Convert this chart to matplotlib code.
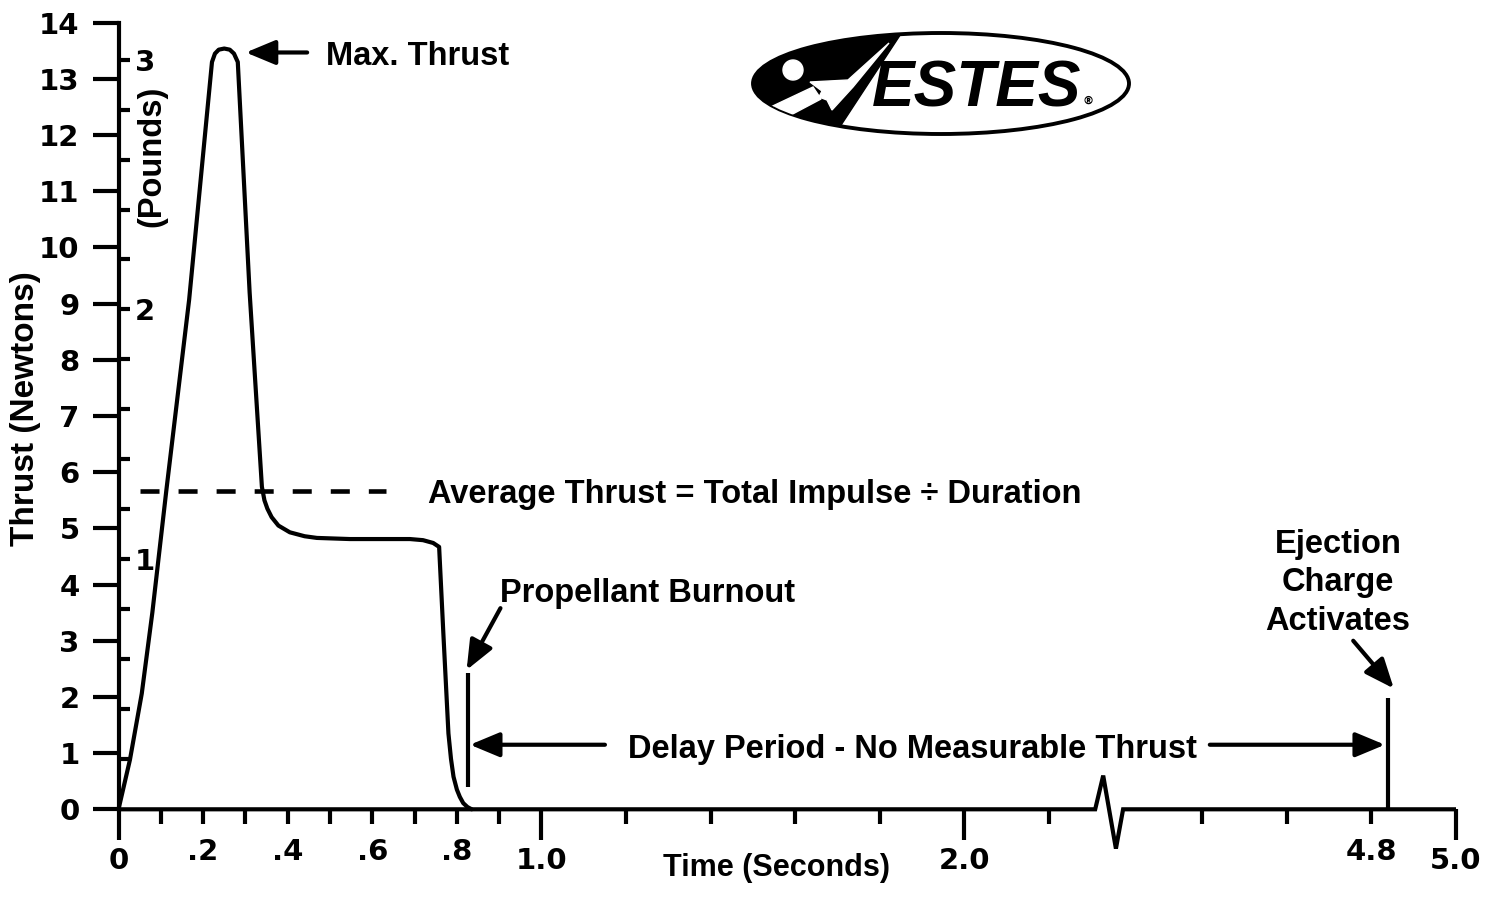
import numpy as np
import matplotlib
matplotlib.use("Agg")
import matplotlib.pyplot as plt
from matplotlib.patches import Ellipse, Polygon, Circle

# thrust curve (seconds, newtons)
TIME_S = [0.0, 0.027, 0.055, 0.080, 0.113, 0.167, 0.221, 0.228, 0.237, 0.250,
          0.263, 0.273, 0.282, 0.310, 0.339, 0.345, 0.352, 0.362, 0.378, 0.405,
          0.440, 0.469, 0.547, 0.689, 0.720, 0.744, 0.758, 0.768, 0.780, 0.786,
          0.792, 0.800, 0.807, 0.815, 0.825, 0.835]
THRUST_N = [0.0, 0.88, 2.06, 3.50, 5.67, 9.07, 13.30, 13.45, 13.52, 13.54,
            13.52, 13.45, 13.30, 9.20, 5.74, 5.50, 5.35, 5.20, 5.05, 4.93,
            4.86, 4.83, 4.81, 4.81, 4.79, 4.74, 4.67, 3.13, 1.35, 0.90,
            0.58, 0.35, 0.22, 0.11, 0.04, 0.0]

# time axis ticks
X_MAJOR = [0.0, 1.0, 2.0, 5.0]
X_MAJOR_LABELS = ["0", "1.0", "2.0", "5.0"]
X_MINOR = [0.1, 0.2, 0.3, 0.4, 0.5, 0.6, 0.7, 0.8, 0.9,
           1.2, 1.4, 1.6, 1.8, 2.2, 4.4, 4.6, 4.8]
X_MINOR_LABELS = ["", ".2", "", ".4", "", ".6", "", ".8", "",
                  "", "", "", "", "", "", "", "4.8"]

# thrust axis ticks (newtons on the left, pounds inside)
Y_TICKS = list(range(15))
LB_MAJOR = [1, 2, 3]
LB_MINOR = [0.2, 0.4, 0.6, 0.8, 1.2, 1.4, 1.6, 1.8, 2.2, 2.4, 2.6, 2.8]
N_PER_LB = 4.448

AVG_THRUST = 5.67
AVG_SPAN = [0.051, 0.633]
BURNOUT_T = 0.826
BURNOUT_SPAN = [0.39, 2.42]
EJECTION_T = 4.84
EJECTION_SPAN = [0.0, 1.98]

# axis break: 2.3 s .. 4.4 s squeezed into a short gap
SCALE_T = [0.0, 2.3, 4.4, 6.0]
SCALE_U = [0.0, 2.3, 2.562, 4.162]
BREAK_T = [2.372, 2.524, 2.765, 2.901]
BREAK_N = [0.0, 0.6, -0.7, 0.0]

LW = 3.0
ANNOT_SIZE = 23.5
TICK_FONT = dict(fontfamily="DejaVu Sans", fontweight="bold", fontsize=21)

plt.rcParams['font.family'] = ['Liberation Sans', 'DejaVu Sans']
plt.rcParams['font.weight'] = 'bold'
plt.rcParams['lines.scale_dashes'] = False


def fwd(t):
    return np.interp(t, SCALE_T, SCALE_U)


def inv(u):
    return np.interp(u, SCALE_U, SCALE_T)


def n_to_lb(n):
    return np.asarray(n) / N_PER_LB


def lb_to_n(lb):
    return np.asarray(lb) * N_PER_LB


def arrow(ax, tail, tip):
    ax.annotate("", xy=tip, xytext=tail,
                arrowprops=dict(arrowstyle="-|>,head_length=1.8,head_width=0.75",
                                mutation_scale=10, lw=LW, color="black",
                                shrinkA=0, shrinkB=0),
                annotation_clip=False)


def draw_logo(fig):
    W, H = 1497, 915
    lax = fig.add_axes([745 / W, 1 - 140 / H, 395 / W, 115 / H])
    lax.set_xlim(745, 1140)
    lax.set_ylim(140, 25)
    lax.axis("off")

    oval = Ellipse((941, 83.5), 376, 101, facecolor="white",
                   edgecolor="black", lw=2.8, zorder=1)
    lax.add_patch(oval)
    dark = Polygon([(740, 20), (910, 20), (828, 145), (740, 145)],
                   closed=True, color="black", zorder=2)
    lax.add_patch(dark)
    dark.set_clip_path(oval)

    trail = Polygon([(760, 112), (813, 87), (821, 99), (770, 126)],
                    closed=True, color="white", zorder=3)
    lax.add_patch(trail)
    trail.set_clip_path(oval)
    rocket = Polygon([(889, 43), (848, 80), (810, 82), (822, 91), (819, 97),
                      (827, 100), (832, 110), (853, 87)],
                     closed=True, color="white", zorder=3)
    lax.add_patch(rocket)
    lax.add_patch(Circle((793, 70), 10, color="white", zorder=3))

    lax.text(977, 106.5, "ESTES", fontsize=46, fontstyle="italic",
             fontweight="bold", ha="center", va="baseline", zorder=4)
    lax.text(1088, 101, "\u00ae", fontsize=8, fontfamily="DejaVu Sans",
             ha="center", va="center", zorder=4)


fig = plt.figure(figsize=(14.97, 9.15), dpi=100)
ax = fig.add_axes([118.5 / 1497, 105.7 / 915, 1337.5 / 1497, 786.6 / 915])
ax.set_xscale("function", functions=(fwd, inv))
ax.set_xlim(0, 5.0)
ax.set_ylim(0, 14)

for side in ("top", "right", "bottom"):
    ax.spines[side].set_visible(False)
ax.spines["left"].set_linewidth(LW)

# time axis line with the break zigzag
ax.plot([0.0] + BREAK_T + [5.0], [0.0] + BREAK_N + [0.0], color="black",
        lw=LW, solid_joinstyle="miter", solid_capstyle="butt",
        clip_on=False, zorder=3)

# thrust curve
ax.plot(TIME_S, THRUST_N, color="black", lw=LW, solid_joinstyle="round",
        solid_capstyle="round", clip_on=False, zorder=4)

# average thrust
ax.plot(AVG_SPAN, [AVG_THRUST, AVG_THRUST], color="black", lw=3.3,
        dashes=(13.7, 13.7), dash_capstyle="butt")

# burnout and ejection markers
ax.plot([BURNOUT_T, BURNOUT_T], BURNOUT_SPAN, color="black", lw=LW,
        solid_capstyle="butt")
ax.plot([EJECTION_T, EJECTION_T], EJECTION_SPAN, color="black", lw=LW,
        solid_capstyle="butt")

# ticks
ax.set_xticks(X_MAJOR, labels=X_MAJOR_LABELS, **TICK_FONT)
ax.set_xticks(X_MINOR, labels=X_MINOR_LABELS, minor=True, **TICK_FONT)
ax.tick_params(axis="x", which="major", direction="out", length=22,
               width=LW, pad=5)
ax.tick_params(axis="x", which="minor", direction="out", length=11,
               width=LW, pad=9.5)
ax.set_yticks(Y_TICKS, labels=[str(v) for v in Y_TICKS], **TICK_FONT)
ax.tick_params(axis="y", which="major", direction="out", length=19,
               width=LW, pad=9)
ax.yaxis.set_minor_locator(plt.NullLocator())

sec = ax.secondary_yaxis(0, functions=(n_to_lb, lb_to_n))
sec.set_alignment("right")
sec.set_yticks(LB_MAJOR, labels=[str(v) for v in LB_MAJOR],
               fontfamily="DejaVu Sans", fontweight="bold", fontsize=21)
sec.set_yticks(LB_MINOR, minor=True)
sec.tick_params(which="both", direction="out", length=8, width=LW, pad=4)
for sp in sec.spines.values():
    sp.set_visible(False)

# axis titles
ax.set_xlabel("Time (Seconds)", fontsize=22, fontweight="bold", va="center")
ax.xaxis.set_label_coords(0.4923, -0.0746)
ax.set_ylabel("Thrust (Newtons)", fontsize=24, fontweight="bold", va="center")
ax.yaxis.set_label_coords(-0.0699, 0.51)
ax.text(0.079, 11.63, "(Pounds)", rotation=90, ha="center", va="center",
        fontsize=23.5)

# annotations
ax.text(0.49, 13.25, "Max. Thrust", fontsize=ANNOT_SIZE, va="baseline")
arrow(ax, (0.446, 13.47), (0.301, 13.47))

ax.text(0.732, 5.46, "Average Thrust = Total Impulse \u00f7 Duration",
        fontsize=ANNOT_SIZE, va="baseline")

ax.text(0.902, 3.69, "Propellant Burnout", fontsize=ANNOT_SIZE, va="baseline")
arrow(ax, (0.903, 3.58), (0.823, 2.48))

ax.text(1.878, 0.918, "Delay Period - No Measurable Thrust",
        fontsize=ANNOT_SIZE, ha="center", va="baseline")
arrow(ax, (1.150, 1.149), (0.831, 1.149))
arrow(ax, (4.418, 1.149), (4.832, 1.149))

# multi-line baseline alignment uses the last line
ax.text(4.721, 3.20, "Ejection\nCharge\nActivates", fontsize=ANNOT_SIZE,
        ha="center", va="baseline", linespacing=1.3)
arrow(ax, (4.757, 3.0), (4.853, 2.15))

draw_logo(fig)

fig.savefig("out.png", dpi=100, facecolor="white")
